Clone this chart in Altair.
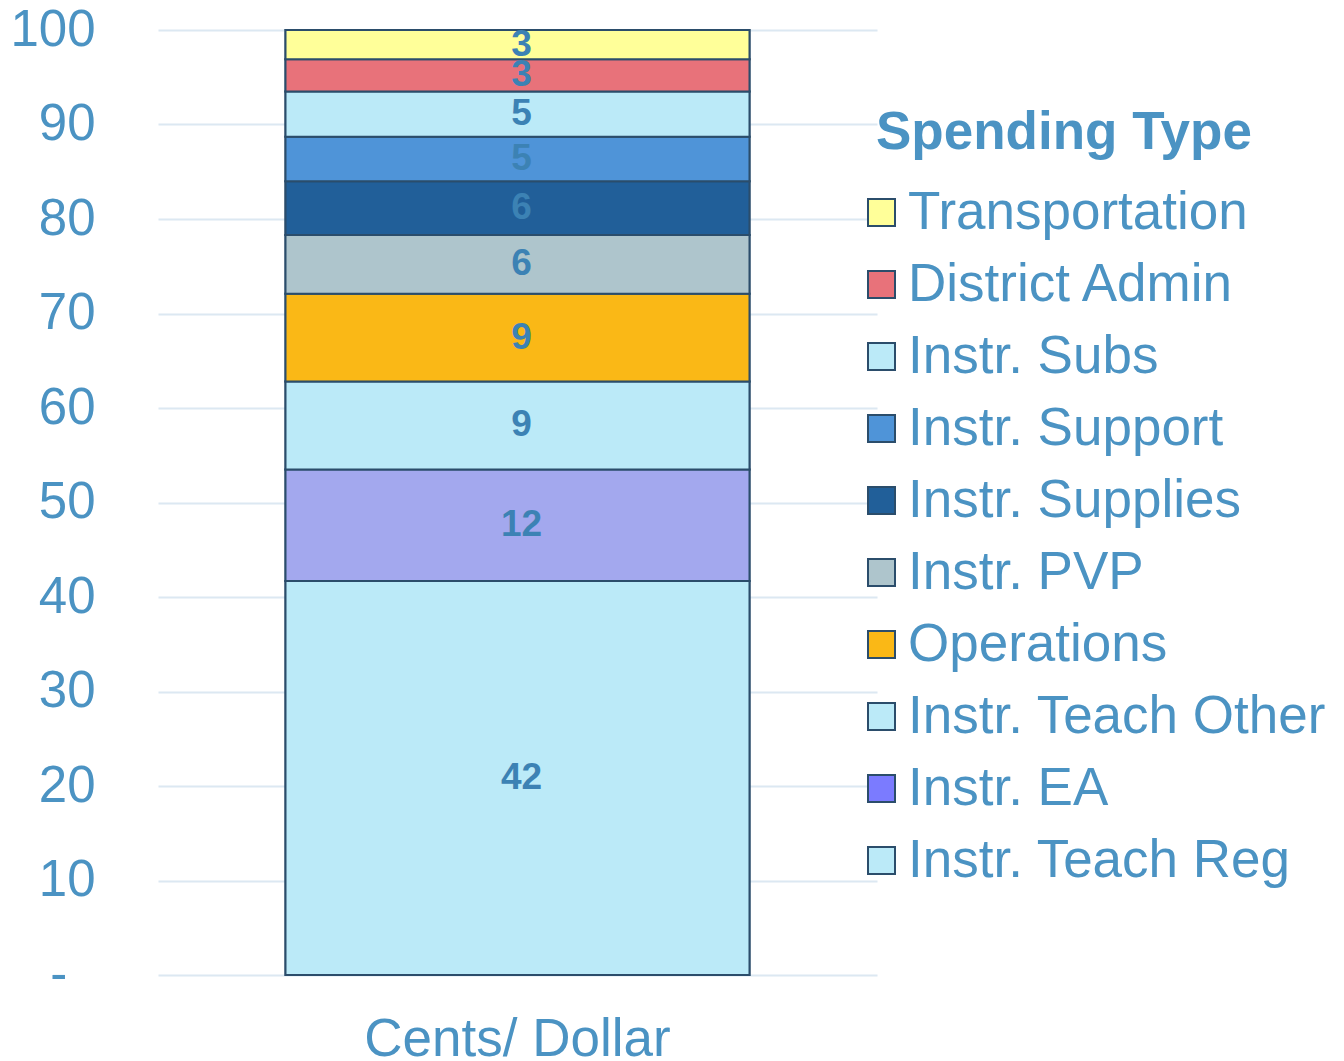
import altair as alt
import pandas as pd

FONT = "Liberation Sans"
TEXT_COLOR = "#4b93c3"
STROKE = "#2b4d6b"

categories = ["Instr. Teach Reg", "Instr. EA", "Instr. Teach Other", "Operations",
              "Instr. PVP", "Instr. Supplies", "Instr. Support", "Instr. Subs",
              "District Admin", "Transportation"]
values = [41.7, 11.8, 9.3, 9.3, 6.2, 5.7, 4.7, 4.8, 3.4, 3.1]
legend_colors = ["#bbeaf8", "#7b7bff", "#bbeaf8", "#fab816", "#aec5cc",
                 "#215f99", "#4f94d8", "#bbeaf8", "#e8727a", "#ffff99"]
bar_colors = ["#bbeaf8", "#a3a8ee", "#bbeaf8", "#fab816", "#aec5cc",
              "#215f99", "#4f94d8", "#bbeaf8", "#e8727a", "#ffff99"]
x_category = "Cents/ Dollar"
y_ticks = [0, 10, 20, 30, 40, 50, 60, 70, 80, 90, 100]

df = pd.DataFrame({
    "type": categories,
    "value": values,
    "rank": list(range(len(categories))),
    "barcolor": bar_colors,
    "x": [x_category] * len(categories),
})

legend_order = categories[::-1]
color_range = legend_colors[::-1]

base = alt.Chart(df)

x_enc = alt.X("x:N", axis=alt.Axis(title=None, labelAngle=0, domain=False, ticks=False,
                                   labelFontSize=53, labelPadding=38, labelColor=TEXT_COLOR,
                                   labelFont=FONT, labelLimit=800, grid=False))
y_enc = alt.Y("value:Q", stack="zero", scale=alt.Scale(domain=[0, 100], nice=False),
              axis=alt.Axis(values=y_ticks, title=None, domain=False, ticks=False,
                            labelExpr="datum.value == 0 ? '-\u00a0\u00a0\u200b' : datum.label",
                            labelFontSize=51, labelColor=TEXT_COLOR, labelFont=FONT,
                            labelPadding=63, gridColor="#dce8f2", gridWidth=2))

legend_bars = base.mark_bar(size=464, stroke=STROKE, strokeWidth=2).encode(
    x=x_enc,
    y=y_enc,
    color=alt.Color("type:N", scale=alt.Scale(domain=legend_order, range=color_range),
                    legend=alt.Legend(title="Spending Type", orient="none",
                                      legendX=718, legendY=77, padding=0,
                                      titleFontSize=53, titleFontWeight="bold",
                                      titleColor=TEXT_COLOR, titleFont=FONT,
                                      titlePadding=26, titleLimit=800,
                                      labelFontSize=53, labelColor=TEXT_COLOR,
                                      labelFont=FONT, labelLimit=800, labelOffset=0,
                                      symbolType="square", symbolSize=729,
                                      symbolOffset=-21,
                                      symbolStrokeColor=STROKE, symbolStrokeWidth=2,
                                      rowPadding=18)),
    order=alt.Order("rank:Q", sort="ascending"),
)

bars = base.mark_bar(size=464, stroke=STROKE, strokeWidth=2).encode(
    x="x:N",
    y=alt.Y("value:Q", stack="zero"),
    fill=alt.Fill("barcolor:N", scale=None),
    order=alt.Order("rank:Q", sort="ascending"),
)

labels = base.transform_window(
    cum="sum(value)", sort=[alt.SortField("rank")], frame=[None, 0]
).transform_calculate(
    mid="datum.cum - datum.value / 2"
).mark_text(fontSize=37, fontWeight="bold", color="#3c82b4", font=FONT, dx=4).encode(
    x="x:N",
    y="mid:Q",
    text=alt.Text("value:Q", format=".0f"),
)

chart = alt.layer(legend_bars, bars, labels).properties(
    width=719, height=945,
    padding={"left": 1, "top": -4, "right": 0, "bottom": 0},
).configure_view(stroke=None)

chart.save("out.html", embed_options={"renderer": "svg", "actions": False})
